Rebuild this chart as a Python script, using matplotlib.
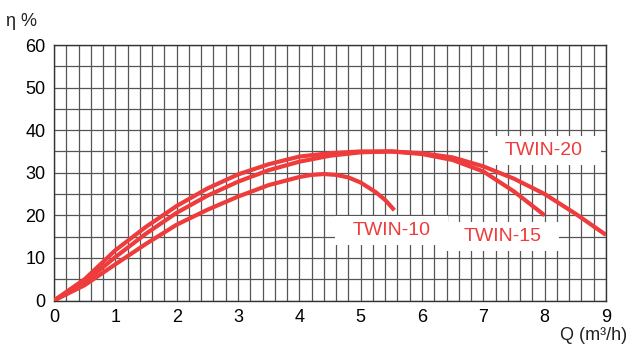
import matplotlib
matplotlib.use("Agg")
import matplotlib.pyplot as plt
import numpy as np

plt.rcParams['font.family'] = ['Liberation Sans', 'DejaVu Sans']

# Data
q_twin10 = [0, 0.5, 1, 1.5, 2, 2.5, 3, 3.5, 4, 4.2, 4.4, 4.6, 4.8, 5.0, 5.25, 5.4, 5.55]
e_twin10 = [0, 3.6, 8.5, 13.3, 17.8, 21.3, 24.4, 27.1, 29.0, 29.5, 29.7, 29.5, 28.9, 27.7, 25.4, 23.6, 21.2]

q_twin15 = [0, 0.5, 1, 1.5, 2, 2.5, 3, 3.5, 4, 4.5, 5, 5.5, 6, 6.5, 7, 7.5, 8]
e_twin15 = [0, 5.0, 11.8, 17.3, 22.2, 26.3, 29.6, 32.0, 33.8, 34.6, 35.0, 35.0, 34.4, 33.0, 30.3, 25.6, 20.0]

q_twin20 = [0, 0.5, 1, 1.5, 2, 2.5, 3, 3.5, 4, 4.5, 5, 5.5, 6, 6.5, 7, 7.5, 8, 8.5, 9]
e_twin20 = [0, 4.3, 10.2, 15.7, 20.6, 24.6, 27.9, 30.6, 32.6, 34.0, 34.8, 35.0, 34.6, 33.6, 31.5, 28.6, 25.0, 20.4, 15.4]

series = [(q_twin10, e_twin10), (q_twin15, e_twin15), (q_twin20, e_twin20)]

labels = ["TWIN-10", "TWIN-15", "TWIN-20"]
label_pos = [(5.5, 16.4), (7.32, 15.0), (7.99, 35.2)]

x_ticks = list(range(0, 10))
y_ticks = list(range(0, 61, 10))

red = '#EE3B3B'

fig = plt.figure(figsize=(6.3, 3.45), dpi=100)
ax = fig.add_axes([54/630, 1 - 300.5/345, (606 - 54)/630, (300.5 - 45)/345])

ax.set_xlim(0, 9)
ax.set_ylim(0, 60)
ax.set_xticks(x_ticks)
ax.set_yticks(y_ticks)
ax.set_xticks(np.arange(0, 9.01, 0.2), minor=True)
ax.set_yticks(np.arange(0, 60.1, 5), minor=True)
ax.grid(True, which='both', color='#555555', linewidth=0.9, zorder=0)
ax.tick_params(which='both', length=0)
ax.tick_params(axis='x', pad=6, labelsize=13)
ax.tick_params(axis='y', pad=6, labelsize=13)
for s in ax.spines.values():
    s.set_color('#333333')
    s.set_linewidth(1.0)

for q, e in series:
    ax.plot(q, e, color=red, linewidth=3.0, solid_capstyle='butt',
            solid_joinstyle='round', zorder=3)

for lab, (x, y) in zip(labels, label_pos):
    ax.text(x, y, lab, color=red, fontsize=14, ha='center', va='center', zorder=4,
            bbox=dict(boxstyle='square,pad=0.9', mutation_aspect=0.35,
                      facecolor='white', edgecolor='none'))

fig.text(6/630, 1 - 22/345, 'η %', fontsize=13, ha='left', va='center', color='#222222')
fig.text(627/630, 1 - 335/345, 'Q (m³/h)', fontsize=13, ha='right', va='center', color='#222222')

fig.savefig('out.png', dpi=100)
